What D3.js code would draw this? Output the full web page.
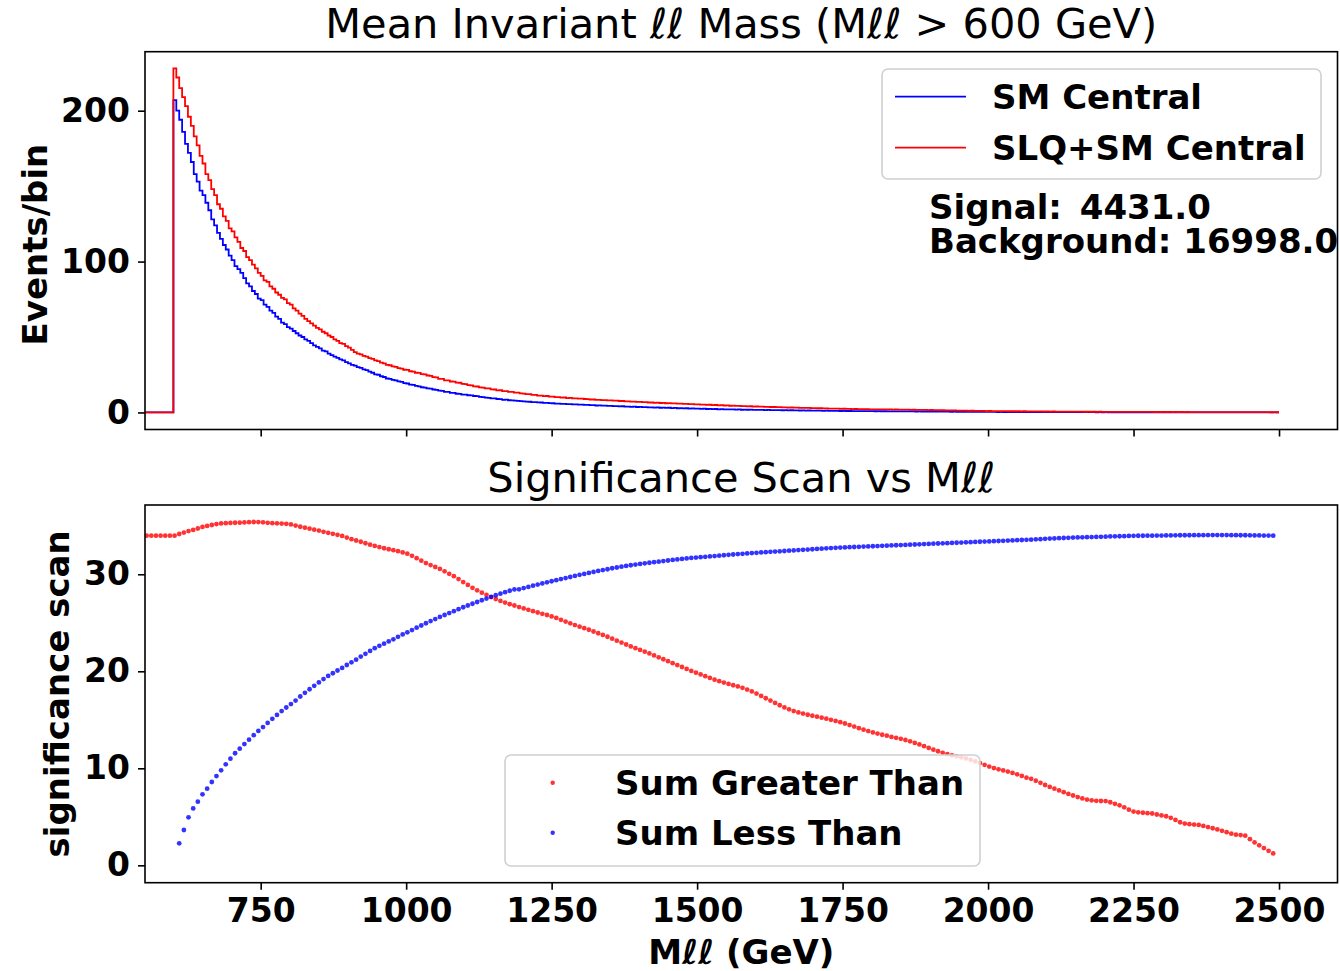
<!DOCTYPE html>
<html><head><meta charset="utf-8">
<script src="https://cdn.jsdelivr.net/npm/d3@7/dist/d3.min.js"></script>
<style>
body{margin:0;background:#fff}
svg{display:block}
text{font-family:"DejaVu Sans",sans-serif;fill:#000}
</style>
</head><body>
<svg id="chart" width="1340" height="971"></svg>
<script>
// ---------------- DATA ----------------
// Top panel: histogram (events per bin), bins of width 5 GeV starting at 600 GeV
const histStart = 600;
const histBinWidth = 5;
const histUnderflowFrom = 550; // empty region left of 600 GeV
const smCentral = [
  207,200,194,186,178,172,166,158,153,147,144,139,134,128,124,119,115,111,108,104,
  101,97,95,92.5,89,85.5,83.5,80.5,78.5,75.5,74.5,71.5,70,67.5,66,63.5,62,59.5,58.5,56.5,
  55.5,54,52.5,51,50,48.5,47.5,46,44.5,43.5,42.5,41,40.5,39,38,37,36.2,35.2,34.5,33.3,
  32.5,31.5,31,30,29.5,28.5,28,27,26.3,25.3,25,24,23.5,22.5,22.3,21.6,21.3,20.6,20.2,19.4,
  19.2,18.5,18.3,17.6,17.3,16.7,16.5,15.9,15.8,15.2,15,14.4,14.3,13.7,13.6,13,13,12.4,12.3,11.8,
  11.8,11.4,11.3,10.9,10.8,10.3,10.2,9.8,9.7,9.3,9.3,8.9,8.8,8.4,8.5,8.1,8.0,7.8,7.7,7.5,
  7.4,7.2,7.1,6.9,6.9,6.7,6.6,6.4,6.4,6.2,6.1,5.9,5.9,5.7,5.7,5.5,5.5,5.3,5.3,5.2,
  5.2,5.0,5.0,4.8,4.8,4.6,4.7,4.5,4.5,4.3,4.4,4.2,4.2,4.0,4.1,3.9,3.9,3.7,3.8,3.6,
  3.7,3.5,3.5,3.3,3.4,3.2,3.3,3.1,3.2,3.0,3.1,2.9,3.0,2.8,2.9,2.7,2.8,2.6,2.7,2.5,
  2.6,2.4,2.5,2.3,2.4,2.2,2.3,2.1,2.2,2.1,2.1,2.0,2.0,1.9,2.0,1.8,1.9,1.8,1.85,1.75,
  1.75,1.65,1.7,1.6,1.65,1.55,1.6,1.5,1.55,1.45,1.5,1.4,1.45,1.35,1.4,1.3,1.35,1.25,1.3,1.2,
  1.25,1.15,1.2,1.1,1.15,1.05,1.1,1.0,1.05,0.95,1.0,0.95,0.97,0.92,0.93,0.88,0.9,0.86,0.87,0.83,
  0.84,0.8,0.82,0.78,0.79,0.75,0.77,0.73,0.74,0.7,0.72,0.68,0.7,0.66,0.68,0.64,0.66,0.62,0.64,0.6,
  0.62,0.58,0.59,0.55,0.56,0.52,0.52,0.48,0.49,0.45,0.46,0.42,0.44,0.4,0.42,0.38,0.4,0.36,0.38,0.34,
  0.36,0.32,0.34,0.3,0.32,0.28,0.3,0.28,0.29,0.27,0.28,0.26,0.27,0.25,0.26,0.24,0.25,0.23,0.24,0.22,
  0.23,0.21,0.22,0.2,0.21,0.19,0.2,0.18,0.19,0.17,0.18,0.16,0.18,0.16,0.17,0.15,0.16,0.14,0.16,0.14,
  0.15,0.13,0.14,0.12,0.14,0.12,0.13,0.11,0.13,0.11,0.12,0.1,0.12,0.1,0.11,0.09,0.11,0.09,0.1,0.08,
  0.1,0.08,0.1,0.08,0.09,0.07,0.09,0.07,0.09,0.07,0.08,0.06,0.08,0.06,0.08,0.06,0.07,0.05,0.07,0.05,
  0.07,0.05,0.07,0.05,0.06,0.04,0.06,0.04,0.06,0.04,0.06,0.04,0.05,0.03,0.05,0.03,0.05,0.03,0.05,0.03
];
const slqSmCentral = [
  228,222,215,209,203,196,190,183,177,170,165,158,154,148,144,138,135,130,127,122,
  120,116,113,109,107,103,101,98,95.5,92.5,90.5,87.5,86.5,83.5,82,79.5,78,76,75,72.5,
  71.5,69,67.5,65.5,64,62,60.5,59,57.5,56,55,53.5,52.5,51,50,48.5,47.5,46,45.5,44,
  43,41.5,40,39,38.5,37.5,37,36,35.5,34.5,34,33,32.5,31.5,31.3,30.5,30.2,29.4,29.1,28.3,
  28.2,27.3,27.1,26.3,26.2,25.4,25.3,24.5,24.3,23.4,23.2,22.3,22.2,21.3,21.2,20.5,20.4,19.8,19.7,18.9,
  18.8,18.1,18.0,17.3,17.2,16.6,16.5,15.9,15.9,15.3,15.2,14.6,14.7,14.1,14.1,13.6,13.6,13.1,13.1,12.6,
  12.5,12.1,12.1,11.7,11.6,11.2,11.2,10.8,10.9,10.5,10.5,10.1,10.2,9.8,9.9,9.5,9.6,9.3,9.3,9.1,
  9.1,8.9,8.8,8.6,8.6,8.4,8.4,8.2,8.2,8.0,8.0,7.8,7.8,7.6,7.6,7.4,7.4,7.2,7.2,7.0,
  7.0,6.8,6.8,6.6,6.6,6.4,6.45,6.25,6.3,6.1,6.15,5.95,6.0,5.8,5.85,5.65,5.7,5.5,5.55,5.35,
  5.4,5.2,5.25,5.05,5.1,4.9,4.95,4.75,4.8,4.6,4.65,4.45,4.5,4.3,4.35,4.15,4.2,4.0,4.1,3.9,
  3.95,3.85,3.85,3.7,3.72,3.6,3.6,3.5,3.5,3.38,3.4,3.26,3.28,3.16,3.17,3.07,3.07,2.97,2.97,2.87,
  2.87,2.77,2.78,2.68,2.69,2.59,2.6,2.5,2.52,2.42,2.44,2.34,2.36,2.26,2.28,2.2,2.21,2.13,2.14,2.06,
  2.1,2.02,2.06,1.98,2.03,1.95,1.99,1.91,1.94,1.86,1.89,1.81,1.84,1.76,1.8,1.72,1.74,1.66,1.68,1.6,
  1.62,1.54,1.54,1.46,1.46,1.38,1.39,1.31,1.32,1.24,1.24,1.16,1.18,1.1,1.12,1.04,1.06,0.98,1.01,0.93,
  0.96,0.9,0.93,0.87,0.9,0.84,0.87,0.81,0.84,0.78,0.81,0.75,0.78,0.72,0.75,0.69,0.72,0.66,0.69,0.63,
  0.66,0.6,0.63,0.57,0.6,0.56,0.58,0.54,0.56,0.52,0.54,0.5,0.52,0.48,0.5,0.46,0.48,0.44,0.46,0.42,
  0.44,0.4,0.43,0.39,0.42,0.38,0.4,0.36,0.39,0.35,0.38,0.34,0.37,0.33,0.36,0.32,0.35,0.31,0.34,0.3,
  0.33,0.29,0.32,0.28,0.31,0.27,0.3,0.26,0.29,0.25,0.28,0.24,0.27,0.23,0.26,0.22,0.25,0.21,0.24,0.2,
  0.23,0.19,0.22,0.18,0.22,0.18,0.21,0.17,0.2,0.16,0.2,0.16,0.19,0.15,0.19,0.15,0.18,0.14,0.18,0.14
];

// Bottom panel: significance scan, cut values start at 554 GeV, step 8 GeV
const scanStart = 554;
const scanStep = 8;
const sumGreaterThan = [
  33.98,33.98,33.98,33.98,33.98,33.98,33.98,34.15,34.3,34.45,
  34.57,34.72,34.88,34.98,35.08,35.17,35.24,35.27,35.29,35.31,
  35.32,35.34,35.37,35.39,35.38,35.35,35.3,35.27,35.25,35.23,
  35.2,35.14,35.02,34.9,34.8,34.7,34.6,34.5,34.38,34.27,
  34.17,34.07,33.95,33.78,33.62,33.48,33.35,33.2,33.05,32.92,
  32.8,32.68,32.58,32.48,32.38,32.25,32.12,31.9,31.66,31.4,
  31.15,30.95,30.75,30.55,30.3,30.05,29.8,29.5,29.2,28.9,
  28.6,28.35,28.1,27.88,27.65,27.45,27.25,27.08,26.92,26.78,
  26.62,26.48,26.34,26.2,26.06,25.92,25.8,25.66,25.5,25.3,
  25.12,24.94,24.76,24.6,24.44,24.28,24.1,23.92,23.75,23.56,
  23.36,23.16,22.96,22.76,22.56,22.38,22.2,22.02,21.84,21.64,
  21.44,21.24,21.04,20.84,20.64,20.44,20.24,20.04,19.86,19.68,
  19.5,19.32,19.14,18.98,18.84,18.7,18.56,18.44,18.3,18.12,
  17.92,17.7,17.46,17.22,16.98,16.74,16.5,16.28,16.08,15.9,
  15.76,15.64,15.52,15.42,15.32,15.22,15.12,15.0,14.88,14.76,
  14.62,14.46,14.3,14.14,13.98,13.84,13.7,13.58,13.46,13.36,
  13.24,13.14,13.04,12.92,12.78,12.62,12.46,12.28,12.1,11.92,
  11.76,11.6,11.46,11.34,11.24,11.14,11.02,10.88,10.72,10.54,
  10.36,10.18,10.02,9.9,9.78,9.66,9.52,9.38,9.22,9.04,
  8.92,8.72,8.5,8.28,8.08,7.9,7.72,7.54,7.36,7.2,
  7.04,6.9,6.78,6.7,6.65,6.63,6.62,6.5,6.34,6.18,
  5.98,5.74,5.54,5.46,5.42,5.38,5.34,5.24,5.14,5.06,
  4.9,4.68,4.44,4.3,4.24,4.2,4.16,4.06,3.94,3.82,
  3.7,3.56,3.42,3.26,3.16,3.12,3.06,2.7,2.36,2.06,
  1.78,1.5,1.23
];
const sumLessThan = [
  null,null,null,null,null,null,null,2.27,3.64,4.95,
  5.87,6.56,7.32,7.9,8.59,9.2,9.79,10.41,10.99,11.55,
  12.02,12.5,12.95,13.42,13.85,14.25,14.68,15.1,15.5,15.9,
  16.27,16.62,16.98,17.4,17.78,18.15,18.5,18.85,19.2,19.52,
  19.8,20.08,20.35,20.65,20.92,21.2,21.52,21.8,22.1,22.38,
  22.62,22.85,23.08,23.3,23.55,23.8,24.02,24.25,24.5,24.72,
  24.95,25.18,25.38,25.6,25.8,26.0,26.2,26.4,26.6,26.78,
  26.96,27.14,27.32,27.5,27.68,27.84,28.0,28.15,28.3,28.44,
  28.45,28.58,28.7,28.82,28.94,29.06,29.17,29.28,29.39,29.5,
  29.61,29.72,29.83,29.94,30.04,30.14,30.24,30.34,30.43,30.52,
  30.62,30.7,30.78,30.86,30.93,31.0,31.07,31.13,31.19,31.25,
  31.3,31.36,31.42,31.48,31.53,31.58,31.63,31.68,31.72,31.76,
  31.8,31.84,31.88,31.92,31.96,32.0,32.04,32.08,32.11,32.15,
  32.18,32.21,32.25,32.28,32.31,32.34,32.37,32.4,32.43,32.46,
  32.49,32.52,32.55,32.58,32.61,32.64,32.67,32.7,32.73,32.75,
  32.77,32.79,32.81,32.83,32.85,32.87,32.89,32.91,32.93,32.95,
  32.97,32.99,33.01,33.03,33.05,33.07,33.09,33.11,33.13,33.15,
  33.17,33.19,33.21,33.23,33.25,33.27,33.29,33.31,33.33,33.35,
  33.37,33.39,33.41,33.43,33.45,33.47,33.49,33.51,33.53,33.55,
  33.57,33.6,33.62,33.65,33.68,33.7,33.72,33.74,33.76,33.78,
  33.8,33.81,33.82,33.83,33.85,33.86,33.88,33.9,33.91,33.92,
  33.93,33.95,33.96,33.97,33.97,33.98,33.98,33.99,33.99,34.0,
  34.0,34.01,34.02,34.02,34.02,34.03,34.03,34.03,34.04,34.04,
  34.04,34.04,34.04,34.03,34.03,34.02,34.02,34.01,34.0,34.0,
  33.99,33.99,33.98
];

const xTicks = [750,1000,1250,1500,1750,2000,2250,2500];
const yTopTicks = [0,100,200];
const yBotTicks = [0,10,20,30];
const topLegend = ["SM Central","SLQ+SM Central"];
const botLegend = ["Sum Greater Than","Sum Less Than"];
const annotation = [["Signal:","4431.0"],["Background:","16998.0"]];

// ---------------- LAYOUT ----------------
const L = 145, R = 1337.5;
const top1 = 51.7, bot1 = 429.5;
const top2 = 505, bot2 = 882.7;
const TICK = 33, BOLD = 34;

const svg = d3.select("#chart");
const x = d3.scaleLinear().domain([551.2, 2600.5]).range([L, R]);
const yTop = d3.scaleLinear().domain([-11.3, 239.1]).range([bot1, top1]);
const yBot = d3.scaleLinear().domain([-1.79, 37.14]).range([bot2, top2]);

const defs = svg.append("defs");
defs.append("clipPath").attr("id","clipTop").append("rect")
  .attr("x",L).attr("y",top1).attr("width",R-L).attr("height",bot1-top1);
defs.append("clipPath").attr("id","clipBot").append("rect")
  .attr("x",L).attr("y",top2).attr("width",R-L).attr("height",bot2-top2);

// ---------- Top panel ----------
function histPoints(vals){
  const pts = [{m: histUnderflowFrom, v: 0}];
  vals.forEach((v,i)=>pts.push({m: histStart + i*histBinWidth, v}));
  pts.push({m: histStart + vals.length*histBinWidth, v: vals[vals.length-1]});
  return pts;
}
const stepLine = d3.line().curve(d3.curveStepAfter).x(d=>x(d.m)).y(d=>yTop(d.v));
const gTop = svg.append("g").attr("clip-path","url(#clipTop)");
gTop.append("path").datum(histPoints(smCentral)).attr("d",stepLine)
  .attr("fill","none").attr("stroke","#0000ff").attr("stroke-width",1.8);
gTop.append("path").datum(histPoints(slqSmCentral)).attr("d",stepLine)
  .attr("fill","none").attr("stroke","#ff0000").attr("stroke-width",1.8);

function styleAxis(g){
  g.select(".domain").remove();
  g.selectAll(".tick line").attr("stroke","#000").attr("stroke-width",1.6);
  g.selectAll(".tick text").attr("font-size",TICK).attr("font-weight","bold")
    .attr("font-family","DejaVu Sans").attr("fill","#000");
}

svg.append("g").attr("transform",`translate(0,${bot1})`)
  .call(d3.axisBottom(x).tickValues(xTicks).tickSize(7).tickFormat(""))
  .call(styleAxis);
svg.append("g").attr("transform",`translate(${L},0)`)
  .call(d3.axisLeft(yTop).tickValues(yTopTicks).tickSize(7).tickPadding(8).tickFormat(d3.format("d")))
  .call(styleAxis);

svg.append("rect").attr("x",L).attr("y",top1).attr("width",R-L).attr("height",bot1-top1)
  .attr("fill","none").attr("stroke","#000").attr("stroke-width",1.6);

// titles
function titleWithEll(g, xPos, yPos, parts){
  const t = g.append("text").attr("x",xPos).attr("y",yPos).attr("text-anchor","middle")
    .attr("font-size",41.5).style("white-space","pre");
  parts.forEach(p=>{
    const s = t.append("tspan").text(p[0]);
    if(p[1]) s.attr("font-style","italic");
  });
  return t;
}
titleWithEll(svg, (L+R)/2, 38, [["Mean Invariant "],["ℓℓ",1],[" Mass (M"],["ℓℓ",1],[" > 600 GeV)"]]);
titleWithEll(svg, (L+R)/2, 492, [["Significance Scan vs M"],["ℓℓ",1]]);

// y labels
svg.append("text").attr("transform",`translate(47,${(top1+bot1)/2 + 4}) rotate(-90)`)
  .attr("text-anchor","middle").attr("font-size",BOLD).attr("font-weight","bold").text("Events/bin");
svg.append("text").attr("transform",`translate(69,${(top2+bot2)/2}) rotate(-90)`)
  .attr("text-anchor","middle").attr("font-size",BOLD).attr("font-weight","bold").text("significance scan");

// top legend
const lg1 = svg.append("g");
lg1.append("rect").attr("x",882).attr("y",69).attr("width",439).attr("height",110).attr("rx",6)
  .attr("fill","#fff").attr("fill-opacity",0.8).attr("stroke","#d0d0d0").attr("stroke-width",1.6);
const lgColors1 = ["#0000ff","#ff0000"];
topLegend.forEach((name,i)=>{
  const yy = 96.7 + i*51;
  lg1.append("line").attr("x1",895).attr("x2",966).attr("y1",yy).attr("y2",yy)
    .attr("stroke",lgColors1[i]).attr("stroke-width",1.8);
  lg1.append("text").attr("x",992).attr("y",yy+12.4).attr("font-size",BOLD).attr("font-weight","bold").text(name);
});

// annotation
annotation.forEach((s,i)=>{
  const t = svg.append("text").attr("x",929).attr("y",219+i*34).attr("font-size",BOLD).attr("font-weight","bold")
    .style("white-space","pre");
  t.append("tspan").text(s[0] + " ");
  t.append("tspan").attr("dx", i===0 ? 6 : 0).text(s[1]);
});

// ---------- Bottom panel ----------
const gBot = svg.append("g").attr("clip-path","url(#clipBot)");
const redPts = sumGreaterThan.map((v,i)=>({m: scanStart + i*scanStep, v})).filter(d=>d.v!==null);
const bluePts = sumLessThan.map((v,i)=>({m: scanStart + i*scanStep, v})).filter(d=>d.v!==null);
gBot.selectAll("circle.r").data(redPts).enter().append("circle").attr("class","r")
  .attr("cx",d=>x(d.m)).attr("cy",d=>yBot(d.v)).attr("r",2.4)
  .attr("fill","#ff0000").attr("fill-opacity",0.8);
gBot.selectAll("circle.b").data(bluePts).enter().append("circle").attr("class","b")
  .attr("cx",d=>x(d.m)).attr("cy",d=>yBot(d.v)).attr("r",2.4)
  .attr("fill","#0000ff").attr("fill-opacity",0.8);

svg.append("g").attr("transform",`translate(0,${bot2})`)
  .call(d3.axisBottom(x).tickValues(xTicks).tickSize(7).tickPadding(9).tickFormat(d3.format("d")))
  .call(styleAxis);
svg.append("g").attr("transform",`translate(${L},0)`)
  .call(d3.axisLeft(yBot).tickValues(yBotTicks).tickSize(7).tickPadding(8).tickFormat(d3.format("d")))
  .call(styleAxis);
svg.append("rect").attr("x",L).attr("y",top2).attr("width",R-L).attr("height",bot2-top2)
  .attr("fill","none").attr("stroke","#000").attr("stroke-width",1.6);

// x label
const xl = svg.append("text").attr("x",(L+R)/2).attr("y",964).attr("text-anchor","middle")
  .attr("font-size",BOLD).attr("font-weight","bold").style("white-space","pre");
xl.append("tspan").text("M");
xl.append("tspan").attr("font-style","italic").text("ℓℓ");
xl.append("tspan").text(" (GeV)");

// bottom legend
const lg2 = svg.append("g");
lg2.append("rect").attr("x",505).attr("y",755).attr("width",475).attr("height",111).attr("rx",6)
  .attr("fill","#fff").attr("fill-opacity",0.8).attr("stroke","#d0d0d0").attr("stroke-width",1.6);
const lgColors2 = ["#ff0000","#0000ff"];
botLegend.forEach((name,i)=>{
  const yy = 782.7 + i*50;
  lg2.append("circle").attr("cx",552.7).attr("cy",yy).attr("r",2.2)
    .attr("fill",lgColors2[i]).attr("fill-opacity",0.8);
  lg2.append("text").attr("x",615).attr("y",yy+12.4).attr("font-size",BOLD).attr("font-weight","bold").text(name);
});
</script>
</body></html>
